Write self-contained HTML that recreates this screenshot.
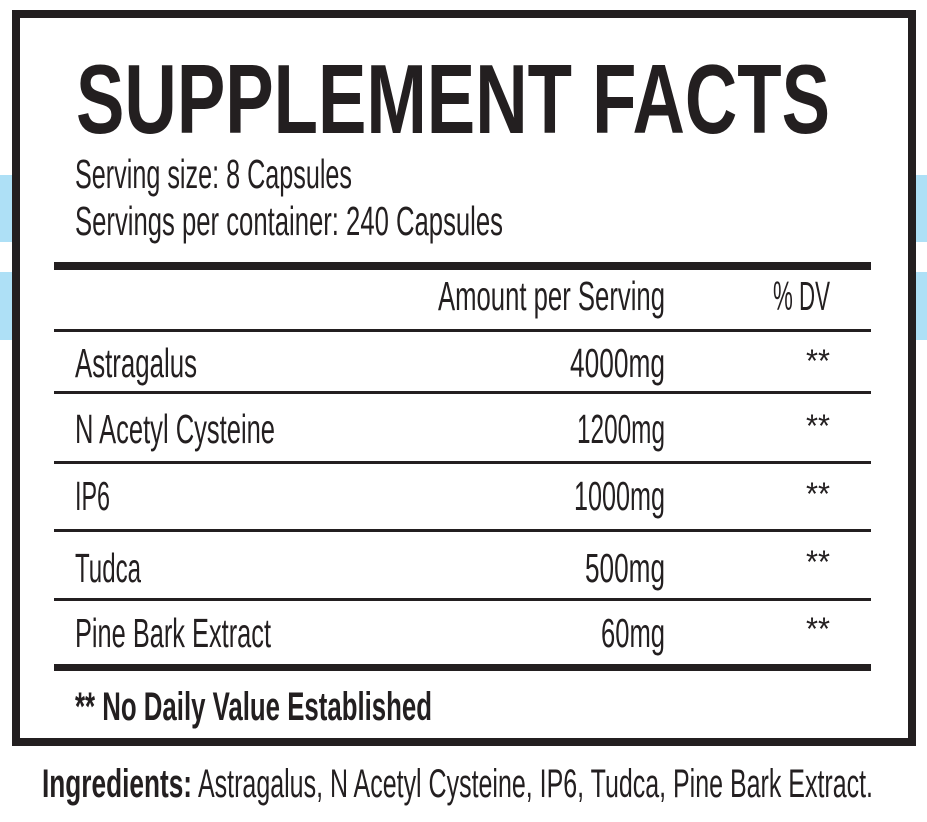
<!DOCTYPE html>
<html><head><meta charset="utf-8"><style>
html,body{margin:0;padding:0;background:#fff;}
svg{display:block}
text{font-family:"Liberation Sans",sans-serif;fill:#231f20}
</style></head><body>
<svg width="927" height="822" viewBox="0 0 927 822">
<rect x="0" y="175" width="12" height="67" fill="#aee0f6"/>
<rect x="0" y="272" width="12" height="68" fill="#aee0f6"/>
<rect x="916" y="175" width="11" height="67" fill="#aee0f6"/>
<rect x="916" y="272" width="11" height="68" fill="#aee0f6"/>
<rect x="16" y="14" width="896" height="728" fill="#fff" stroke="#231f20" stroke-width="8"/>
<text x="76" y="133" font-size="98" font-weight="bold" textLength="754" lengthAdjust="spacingAndGlyphs">SUPPLEMENT FACTS</text>
<g font-size="41">
<text x="75" y="188" textLength="277" lengthAdjust="spacingAndGlyphs">Serving size: 8 Capsules</text>
<text x="75" y="235" textLength="428" lengthAdjust="spacingAndGlyphs">Servings per container: 240 Capsules</text>
</g>
<rect x="54" y="262" width="817" height="8" fill="#231f20"/>
<g fill="#231f20">
<rect x="54" y="329" width="817" height="3"/>
<rect x="54" y="391" width="817" height="3"/>
<rect x="54" y="461" width="817" height="3"/>
<rect x="54" y="529" width="817" height="3"/>
<rect x="54" y="598" width="817" height="3"/>
</g>
<rect x="54" y="664" width="817" height="7" fill="#231f20"/>
<g font-size="41">
<text x="438" y="310" textLength="227" lengthAdjust="spacingAndGlyphs">Amount per Serving</text>
<text x="773" y="310" textLength="57" lengthAdjust="spacingAndGlyphs">% DV</text>
<text x="75" y="377" textLength="122" lengthAdjust="spacingAndGlyphs">Astragalus</text>
<text x="570" y="377" textLength="95" lengthAdjust="spacingAndGlyphs">4000mg</text>
<text x="75" y="443" textLength="200" lengthAdjust="spacingAndGlyphs">N Acetyl Cysteine</text>
<text x="577" y="443" textLength="88" lengthAdjust="spacingAndGlyphs">1200mg</text>
<text x="75" y="510" textLength="35" lengthAdjust="spacingAndGlyphs">IP6</text>
<text x="574" y="510" textLength="91" lengthAdjust="spacingAndGlyphs">1000mg</text>
<text x="75" y="582" textLength="66" lengthAdjust="spacingAndGlyphs">Tudca</text>
<text x="585" y="582" textLength="80" lengthAdjust="spacingAndGlyphs">500mg</text>
<text x="75" y="647" textLength="196" lengthAdjust="spacingAndGlyphs">Pine Bark Extract</text>
<text x="601" y="647" textLength="64" lengthAdjust="spacingAndGlyphs">60mg</text>
</g>
<g font-size="32">
<text x="806" y="372" textLength="24" lengthAdjust="spacingAndGlyphs">**</text>
<text x="806" y="437" textLength="24" lengthAdjust="spacingAndGlyphs">**</text>
<text x="806" y="505" textLength="24" lengthAdjust="spacingAndGlyphs">**</text>
<text x="806" y="573" textLength="24" lengthAdjust="spacingAndGlyphs">**</text>
<text x="806" y="640" textLength="24" lengthAdjust="spacingAndGlyphs">**</text>
</g>
<text x="75" y="720" font-size="40" font-weight="bold" textLength="357" lengthAdjust="spacingAndGlyphs">** No Daily Value Established</text>
<text x="42" y="797" font-size="40" font-weight="bold" textLength="150" lengthAdjust="spacingAndGlyphs">Ingredients:</text>
<text x="198" y="797" font-size="40" textLength="675" lengthAdjust="spacingAndGlyphs">Astragalus, N Acetyl Cysteine, IP6, Tudca, Pine Bark Extract.</text>
</svg>
</body></html>
